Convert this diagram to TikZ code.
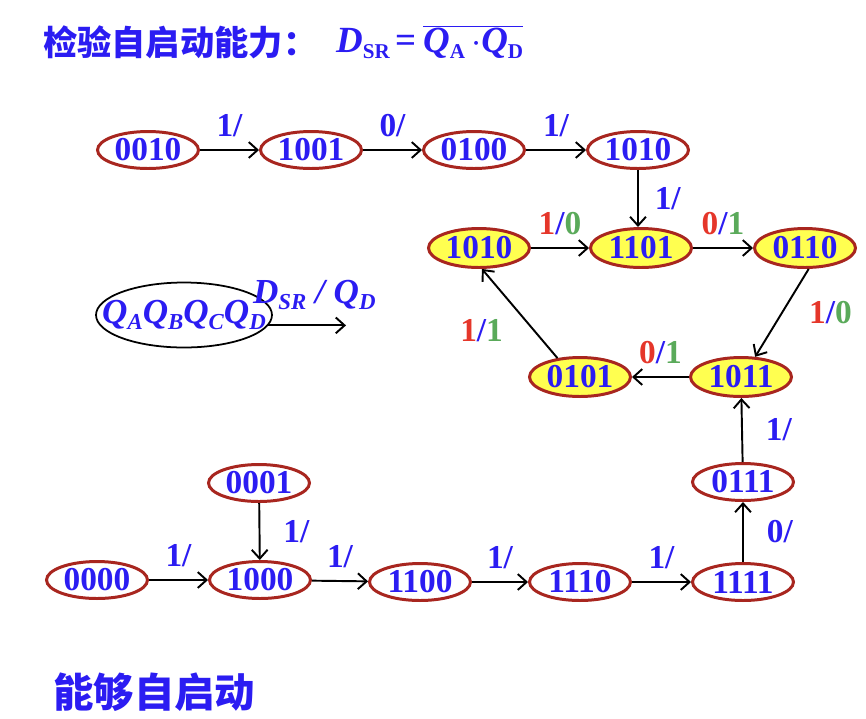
\documentclass[tikz,border=0pt]{standalone}
\usepackage{fontspec}
\setmainfont{Liberation Serif}
\newfontfamily\cjk{Noto Sans CJK SC}
\usepackage{xcolor}
\usetikzlibrary{arrows.meta, positioning, shapes.geometric}
\definecolor{sblue}{HTML}{2B1CF2}
\definecolor{sred}{HTML}{A8261F}
\definecolor{syellow}{HTML}{FFFF50}
\definecolor{lred}{HTML}{E5362A}
\definecolor{lgreen}{HTML}{5AAA5A}
\newcommand\lowsub[2][14]{\raisebox{-0.35ex}{\fontsize{#1}{#1}\selectfont #2}}
\newcommand\rg[2]{{\color{lred}#1}/{\color{lgreen}#2}}
\tikzset{
  sbox/.style={ellipse, draw=sred, line width=1.7pt, fill=white, text=sblue,
               font=\fontsize{19}{19}\selectfont\bfseries,
               minimum width=2.02cm, minimum height=0.74cm, inner sep=0pt},
  ybox/.style={sbox, fill=syellow, minimum height=0.78cm},
  arr/.style={->, line width=1.1pt, >={Straight Barb[length=5pt,width=9pt]}},
  lab/.style={text=sblue, font=\fontsize{19}{19}\selectfont\bfseries, inner sep=1pt},
}

\begin{document}
\begin{tikzpicture}[x=0.02cm, y=-0.02cm]
  \useasboundingbox (0,0) rectangle (866,718);

  % heading
  \node[anchor=west, text=sblue, font=\cjk\bfseries\fontsize{19.5}{19.5}\selectfont]
    (title) at (37,42) {检验自启动能力：};
  \node[anchor=west, text=sblue, font=\fontsize{21}{21}\selectfont\bfseries]
    (eqn) at (330,42)
    {\textit{D}\lowsub[12]{SR}\,=\,$\overline{\hbox{\textit{Q}\lowsub[12]{A}\,$\cdot$\textit{Q}\lowsub[12]{D}}}$};

  % legend
  \node[ellipse, draw, line width=1pt, text=sblue, minimum width=3.52cm,
        minimum height=1.3cm, inner sep=0pt,
        font=\fontsize{20}{20}\selectfont\bfseries\itshape]
    (legend) at (184,315)
    {\makebox[2.2cm]{Q\lowsub[13]{A}Q\lowsub[13]{B}Q\lowsub[13]{C}Q\lowsub[13]{D}}};
  \coordinate (legout) at (346,325);
  \draw[arr] (legend.-7) -- (legend.-7 -| legout)
    node[midway, above=5pt, xshift=4pt, text=sblue,
         font=\fontsize{20}{20}\selectfont\bfseries\itshape]
      {D\lowsub[13]{SR} / Q\lowsub[13]{D}};

  % start sequence
  \node[sbox] (s0010) at (148,150) {0010};
  \node[sbox] (s1001) at (311,150) {1001};
  \node[sbox] (s0100) at (474,150) {0100};
  \node[sbox] (s1010) at (638,150) {1010};

  % main cycle
  \node[ybox] (c1010) at (479,248) {1010};
  \node[ybox] (c1101) at (641,248) {1101};
  \node[ybox] (c0110) at (805,248) {0110};
  \node[ybox] (c1011) at (741,377) {1011};
  \node[ybox] (c0101) at (580,377) {0101};

  % other states
  \node[sbox] (s0111) at (743,482) {0111};
  \node[sbox] (s0001) at (259,483) {0001};
  \node[sbox] (s0000) at (97,580)  {0000};
  \node[sbox] (s1000) at (260,580) {1000};
  \node[sbox] (s1100) at (420,582) {1100};
  \node[sbox] (s1110) at (580,582) {1110};
  \node[sbox] (s1111) at (743,582) {1111};

  \draw[arr] (s0010) -- node[lab, above=6pt] {1/} (s1001);
  \draw[arr] (s1001) -- node[lab, above=6pt] {0/} (s0100);
  \draw[arr] (s0100) -- node[lab, above=6pt] {1/} (s1010);
  \draw[arr] (s1010) -- node[lab, right=8pt] {1/} (s1010 |- c1101.north);

  \draw[arr] (c1010) -- node[lab, above=6pt] {\rg10} (c1101);
  \draw[arr] (c1101) -- node[lab, above=6pt] {\rg01} (c0110);
  \draw[arr] (c0110.-80) -- node[lab, right=14pt] {\rg10} (c1011.55);
  \draw[arr] (c1011) -- node[lab, above=6pt] {\rg01} (c0101);
  \draw[arr] (c0101.140) -- node[lab, below left=2pt and 8pt] {\rg11} (c1010.-82);

  \draw[arr] (s0111) -- node[lab, right=12pt] {1/} (c1011);
  \draw[arr] (s1111) -- node[lab, right=12pt] {0/} (s0111);
  \draw[arr] (s0001) -- node[lab, right=12pt] {1/} (s1000);
  \draw[arr] (s0000) -- node[lab, above=6pt] {1/} (s1000);
  \draw[arr] (s1000) -- node[lab, above=6pt] {1/} (s1100);
  \draw[arr] (s1100) -- node[lab, above=6pt] {1/} (s1110);
  \draw[arr] (s1110) -- node[lab, above=6pt] {1/} (s1111);

  % conclusion
  \node[anchor=west, text=sblue, font=\cjk\bfseries\fontsize{23}{23}\selectfont]
    (result) at (47,692) {能够自启动};
\end{tikzpicture}
\end{document}
